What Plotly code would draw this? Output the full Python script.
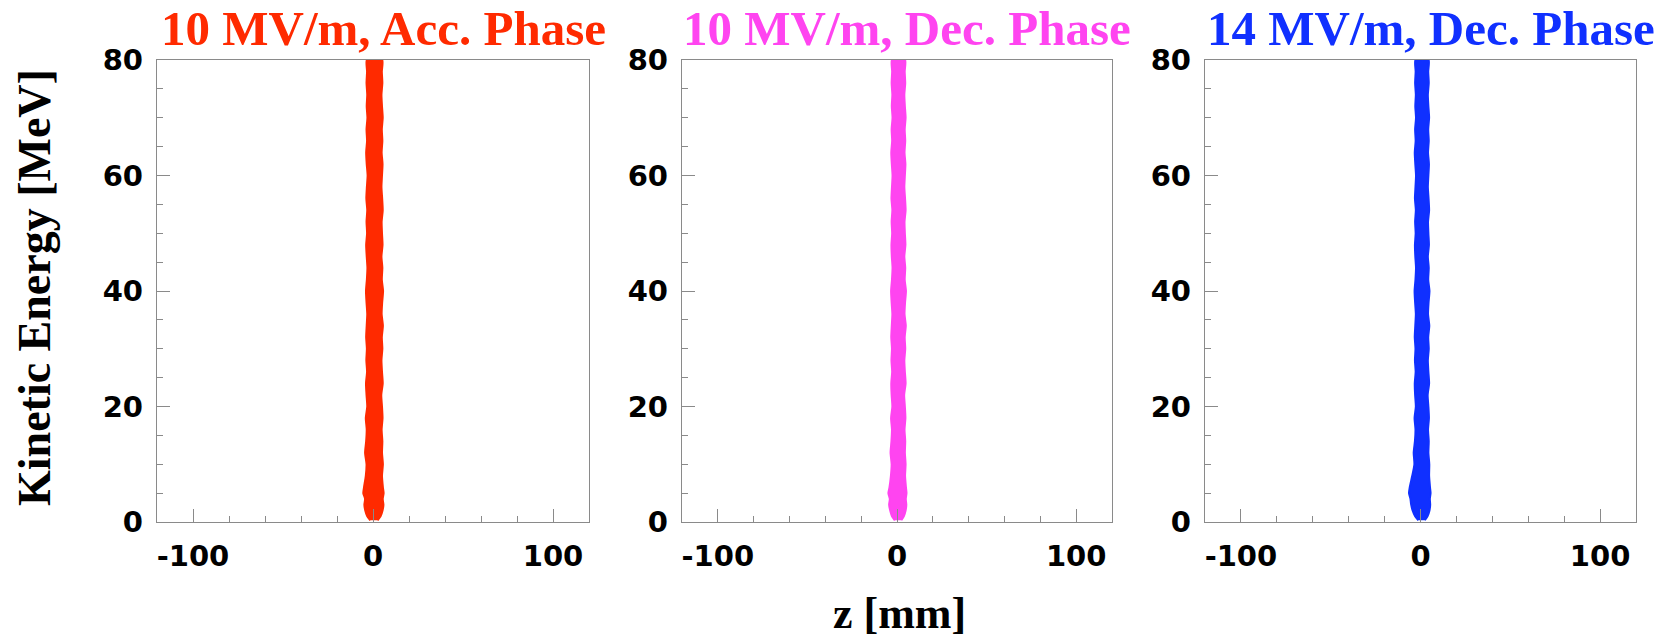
import plotly.graph_objects as go

# ---------------- data ----------------
panel_titles = ["10 MV/m, Acc. Phase", "10 MV/m, Dec. Phase", "14 MV/m, Dec. Phase"]
panel_colors = ["#ff2a00", "#ff44f0", "#1030ff"]

# kinetic energy levels [MeV] at which the band edges were read
energy = [0.3, 1, 2, 3, 4, 5, 6, 8, 10, 12, 14, 16, 18, 20, 22, 24, 26, 28, 30, 32, 34,
          36, 38, 40, 42, 44, 46, 48, 50, 52, 54, 56, 58, 60, 62, 64, 66, 68, 70, 72,
          74, 76, 78, 80]

# band edges in z [mm]
acc10_left = [-1.5, -3.2, -4.3, -4.8, -4.4, -5.4, -5.0, -4.0, -3.6, -4.4, -3.8, -3.5, -4.0,
              -3.2, -3.6, -3.9, -3.3, -3.7, -3.4, -3.8, -3.5, -3.2, -3.6, -3.9, -3.4, -3.1,
              -3.5, -3.8, -3.3, -3.6, -3.2, -3.7, -3.4, -3.0, -3.5, -3.8, -3.3, -3.6, -3.1,
              -3.5, -3.2, -3.6, -3.3, -3.4]
acc10_right = [2.5, 4.2, 5.3, 5.8, 5.4, 5.9, 5.5, 5.0, 5.5, 5.0, 5.2, 4.8, 5.3, 5.0, 4.6,
               5.4, 5.0, 4.7, 5.2, 4.9, 5.5, 4.8, 5.1, 5.6, 4.9, 5.2, 4.7, 5.3, 5.0, 4.8,
               5.4, 5.1, 4.7, 5.0, 5.3, 4.8, 5.2, 4.9, 5.4, 5.0, 4.7, 5.2, 4.9, 5.1]

dec10_left = [-1.2, -2.8, -3.8, -4.4, -4.0, -4.8, -4.2, -3.4, -3.0, -3.6, -3.1, -2.8, -3.3,
              -2.6, -3.0, -3.2, -2.7, -3.1, -2.8, -3.2, -2.9, -2.6, -3.0, -3.3, -2.8, -2.5,
              -2.9, -3.1, -2.7, -3.0, -2.6, -3.1, -2.8, -2.5, -2.9, -3.2, -2.7, -3.0, -2.5,
              -2.9, -2.6, -3.0, -2.7, -2.8]
dec10_right = [2.4, 3.8, 4.8, 5.2, 4.9, 5.3, 5.0, 4.5, 4.8, 4.4, 4.6, 4.2, 4.7, 4.4, 4.0,
               4.8, 4.4, 4.1, 4.6, 4.3, 4.9, 4.2, 4.5, 5.0, 4.3, 4.6, 4.1, 4.7, 4.4, 4.2,
               4.8, 4.5, 4.1, 4.4, 4.7, 4.2, 4.6, 4.3, 4.8, 4.4, 4.1, 4.6, 4.3, 4.5]

dec14_left = [-1.2, -3.0, -4.4, -5.2, -5.6, -6.4, -6.0, -4.6, -3.4, -3.8, -3.1, -2.8, -3.3,
              -2.6, -3.0, -3.2, -2.7, -3.1, -2.8, -3.2, -2.9, -2.6, -3.0, -3.3, -2.8, -2.5,
              -2.9, -3.1, -2.7, -3.0, -2.6, -3.1, -2.8, -2.5, -2.9, -3.2, -2.7, -3.0, -2.5,
              -2.9, -2.6, -3.0, -2.7, -2.8]
dec14_right = [2.4, 3.9, 5.0, 5.4, 5.2, 5.6, 5.3, 4.8, 4.9, 4.4, 4.6, 4.2, 4.7, 4.4, 4.0,
               4.8, 4.4, 4.1, 4.6, 4.3, 4.9, 4.2, 4.5, 5.0, 4.3, 4.6, 4.1, 4.7, 4.4, 4.2,
               4.8, 4.5, 4.1, 4.4, 4.7, 4.2, 4.6, 4.3, 4.8, 4.4, 4.1, 4.6, 4.3, 4.5]

band_left = [acc10_left, dec10_left, dec14_left]
band_right = [acc10_right, dec10_right, dec14_right]

x_tickvals = [-100, 0, 100]
x_ticktext = ["-100", "0", "100"]
y_tickvals = [0, 20, 40, 60, 80]
y_ticktext = ["0", "20", "40", "60", "80"]

x_title = "z [mm]"
y_title = "Kinetic Energy [MeV]"

# ---------------- layout geometry ----------------
W, H = 1661, 638
px_left = [157, 682, 1205]
px_right = [589, 1112, 1636]
py_top, py_bottom = 60, 522

axis_color = "#8a8a8a"
tick_font = dict(family="DejaVu Sans, Liberation Sans, sans-serif", size=29, color="black", weight="bold")
serif_font = "Liberation Serif, Times New Roman, serif"

fig = go.Figure()
layout = dict(
    width=W, height=H,
    margin=dict(l=0, r=0, t=0, b=0, autoexpand=False),
    paper_bgcolor="white", plot_bgcolor="white",
    showlegend=False,
)

annotations = []
for i in range(3):
    sfx = "" if i == 0 else str(i + 1)
    xa, ya = "x" + sfx, "y" + sfx
    xs = band_right[i] + band_left[i][::-1]
    ys = energy + energy[::-1]
    fig.add_trace(go.Scatter(
        x=xs, y=ys, xaxis=xa, yaxis=ya, mode="lines",
        fill="toself", fillcolor=panel_colors[i],
        line=dict(color=panel_colors[i], width=2, shape="spline", smoothing=0.6),
        hoverinfo="skip",
    ))
    layout["xaxis" + sfx] = dict(
        domain=[px_left[i] / W, px_right[i] / W], anchor=ya, automargin=False,
        range=[-120, 120], tickvals=x_tickvals, ticktext=x_ticktext,
        ticks="inside", ticklen=13, tickwidth=1.3, tickcolor=axis_color,
        minor=dict(dtick=20, tick0=0, ticks="inside", ticklen=6, tickwidth=1.3, tickcolor=axis_color),
        showline=True, linecolor=axis_color, linewidth=1.3, mirror=True,
        showgrid=False, zeroline=False, tickfont=tick_font, ticklabelstandoff=8,
    )
    layout["yaxis" + sfx] = dict(
        domain=[1 - py_bottom / H, 1 - py_top / H], anchor=xa, automargin=False,
        range=[0, 80], tickvals=y_tickvals, ticktext=y_ticktext,
        ticks="inside", ticklen=13, tickwidth=1.3, tickcolor=axis_color,
        minor=dict(dtick=5, tick0=0, ticks="inside", ticklen=6, tickwidth=1.3, tickcolor=axis_color),
        showline=True, linecolor=axis_color, linewidth=1.3, mirror=True,
        showgrid=False, zeroline=False, tickfont=tick_font, ticklabelstandoff=7,
    )
    cx = (px_left[i] + px_right[i]) / 2 + 10
    annotations.append(dict(
        text=panel_titles[i], x=cx / W, y=1 - 29 / H, xref="paper", yref="paper",
        xanchor="center", yanchor="middle", showarrow=False,
        font=dict(family=serif_font, size=49, color=panel_colors[i], weight="bold"),
    ))

annotations.append(dict(
    text=y_title, x=34 / W, y=1 - 288 / H, xref="paper", yref="paper",
    xanchor="center", yanchor="middle", showarrow=False, textangle=-90,
    font=dict(family=serif_font, size=46, color="black", weight="bold"),
))
annotations.append(dict(
    text=x_title, x=900 / W, y=1 - 613 / H, xref="paper", yref="paper",
    xanchor="center", yanchor="middle", showarrow=False,
    font=dict(family=serif_font, size=44, color="black", weight="bold"),
))
layout["annotations"] = annotations
fig.update_layout(**layout)
fig.write_html(
    "out.html",
    config={"displayModeBar": False},
    post_script="document.body.style.margin='0';document.body.style.overflow='hidden';",
)
